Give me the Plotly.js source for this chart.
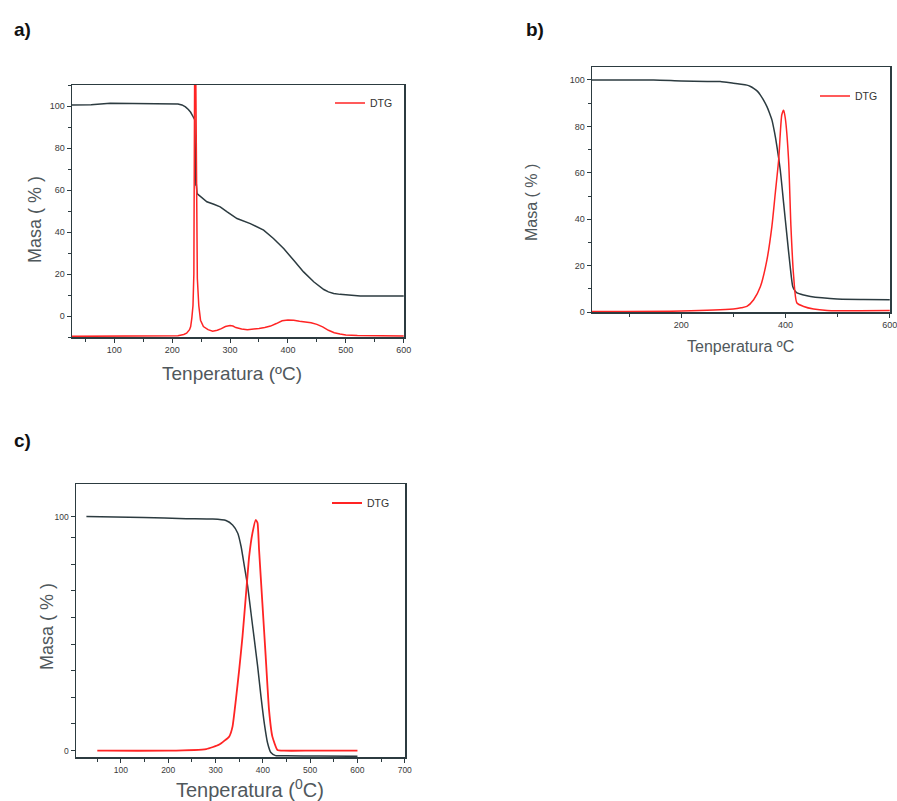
<!DOCTYPE html>
<html>
<head>
<meta charset="utf-8">
<script src="https://cdn.plot.ly/plotly-3.0.1.min.js"></script>
<style>html,body{margin:0;padding:0;background:#fff;}#chart{width:897px;height:801px;}</style>
</head>
<body>
<div id="chart"></div>
<script>
// ---------- Panel a ----------
const aTempTG = [27, 60, 93, 150, 202, 210, 217, 223, 228, 232, 236, 239, 241, 241.7, 243, 249, 260, 272, 283, 295, 312, 335, 358, 375, 393, 410, 427, 445, 462, 470, 479, 490, 500, 525, 560, 600];
const aMassTG = [100.5, 100.6, 101.3, 101.3, 101.3, 101, 100.5, 99.6, 98.3, 97, 95, 93.5, 62, 63, 58.3, 56.8, 54.4, 53.2, 52, 49.6, 46.4, 44, 40.9, 36.9, 32, 26.5, 21, 16.2, 12.6, 11.5, 10.7, 10.3, 10.1, 9.5, 9.5, 9.5];
const aTempDTG = [27, 100, 200, 210, 220, 225, 230, 232, 234, 236, 237.5, 239, 240.5, 242, 243.5, 246, 249, 254, 262, 270, 278, 285, 292, 300, 305, 310, 320, 330, 340, 350, 360, 370, 380, 390, 400, 410, 420, 430, 440, 450, 460, 470, 480, 490, 500, 520, 550, 600];
const aDTG = [-9.7, -9.7, -9.6, -9.4, -8.8, -8.2, -6.5, -5, -1, 5, 20, 125, 125, 40, 18, 5, -2, -5, -6.5, -7.2, -6.8, -6, -5, -4.5, -4.8, -5.5, -6.2, -6.5, -6.3, -6, -5.5, -4.8, -3.6, -2.3, -1.9, -2, -2.5, -2.8, -3.2, -4, -5.2, -6.8, -8, -8.6, -9, -9.3, -9.5, -9.5];

// ---------- Panel b ----------
const bTempTG = [29, 147, 200, 250, 275, 300, 315, 326, 333, 339, 346, 352, 358, 364.5, 369, 374, 379, 383.7, 390, 396.5, 403, 409, 414, 418, 422, 435, 448, 470, 499, 550, 600];
const bMassTG = [100, 100, 99.6, 99.4, 99.3, 98.6, 98.2, 97.8, 97.2, 96.4, 95.2, 93.5, 91.3, 88.5, 86, 82.8, 77.5, 71.3, 61.3, 46.9, 32.6, 19.7, 11, 9.2, 8.2, 7.3, 6.7, 6.1, 5.6, 5.4, 5.3];
const bTempDTG = [29, 200, 300, 315, 326, 339, 352, 364.5, 374, 380.5, 387, 393, 396.5, 399.7, 406, 410.5, 415.7, 422, 435, 454, 480, 600];
const bDTG = [0.2, 0.4, 1.3, 1.8, 2.4, 5.3, 11, 22.5, 36.9, 51.2, 65.6, 85, 87, 83.5, 65.6, 36.9, 15.4, 3.9, 2.4, 1.3, 0.7, 0.6];

// ---------- Panel c ----------
const cTempTG = [27, 148, 238, 294, 322, 336, 347, 354, 361, 368, 375, 382, 389, 396, 403, 410, 417, 427, 450, 520, 600];
const cMassTG = [100, 99.6, 99.1, 98.9, 98.3, 96.4, 92.9, 87.2, 78.7, 70.1, 58.7, 47.4, 36, 23.2, 11.8, 3.3, -0.8, -2.1, -2.2, -2.3, -2.4];
const cTempDTG = [50, 70.6, 200, 280.4, 308, 329, 336, 343, 350, 357, 364, 371, 378, 385, 388.8, 392, 399, 406, 413, 420, 430.8, 445, 500, 550, 600];
const cDTG = [0, 0, 0, 0.7, 2.6, 6.1, 10.4, 21.8, 34.6, 48.8, 65.9, 82.9, 92.9, 98.6, 97.2, 85.8, 63, 40.3, 17.5, 6.1, 0.3, 0, 0, 0, 0];
const cYTickVals = [0, 100];
const cYTickText = ['0', '100'];
const cYMinorVals = [11.4, 22.8, 34.1, 45.5, 56.9, 68.3, 79.7, 91.0];

const W = 897, H = 801;
const px = (l, r) => [l / W, r / W];
const py = (t, b) => [1 - b / H, 1 - t / H];

const BLACK = '#2c3b40';
const RED = '#ff2424';
const AXC = '#2c3b40';
const FONT = 'Arial, "Liberation Sans", sans-serif';
const TITLEC = '#50585c';

const data = [
  {x: aTempTG, y: aMassTG, xaxis: 'x', yaxis: 'y', mode: 'lines', line: {color: BLACK, width: 1.5}, showlegend: false},
  {x: aTempDTG, y: aDTG, xaxis: 'x', yaxis: 'y', mode: 'lines', name: 'DTG', line: {color: RED, width: 1.5}, legend: 'legend'},
  {x: bTempTG, y: bMassTG, xaxis: 'x2', yaxis: 'y2', mode: 'lines', line: {color: BLACK, width: 1.5, shape: 'spline', smoothing: 0.6}, showlegend: false},
  {x: bTempDTG, y: bDTG, xaxis: 'x2', yaxis: 'y2', mode: 'lines', name: 'DTG', line: {color: RED, width: 1.5, shape: 'spline', smoothing: 0.6}, legend: 'legend2'},
  {x: cTempTG, y: cMassTG, xaxis: 'x3', yaxis: 'y3', mode: 'lines', line: {color: BLACK, width: 1.5, shape: 'spline', smoothing: 0.5}, showlegend: false},
  {x: cTempDTG, y: cDTG, xaxis: 'x3', yaxis: 'y3', mode: 'lines', name: 'DTG', line: {color: RED, width: 1.8, shape: 'spline', smoothing: 0.4}, legend: 'legend3'}
];

function ax(opts) {
  return Object.assign({
    showline: true, linecolor: AXC, linewidth: 1.5, mirror: true,
    showgrid: false, zeroline: false,
    ticks: 'outside', ticklen: 4, tickwidth: 1, tickcolor: AXC,
    ticklabeloverflow: 'allow',
    tickfont: {family: FONT, size: 9, color: '#3a3a3a'}
  }, opts);
}

const legendBase = {
  bgcolor: 'rgba(0,0,0,0)', borderwidth: 0,
  font: {family: FONT, size: 10.5, color: '#333'},
  xanchor: 'left', yanchor: 'middle', tracegroupgap: 0
};

const layout = {
  width: W, height: H,
  margin: {l: 0, r: 0, t: 0, b: 0},
  paper_bgcolor: '#fff', plot_bgcolor: '#fff',
  font: {family: FONT},
  xaxis: ax({domain: px(72, 404), anchor: 'y', range: [27, 600.5], tick0: 0, dtick: 100, minor: {dtick: 50, ticklen: 3, tickcolor: AXC, ticks: 'outside'}}),
  yaxis: ax({domain: py(85, 337), anchor: 'x', range: [-10, 110], tick0: 0, dtick: 20, minor: {dtick: 10, ticklen: 3, tickcolor: AXC, ticks: 'outside'}}),
  xaxis2: ax({domain: px(592, 890), anchor: 'y2', range: [29, 600.5], tick0: 0, dtick: 200, minor: {dtick: 100, ticklen: 3, tickcolor: AXC, ticks: 'outside'}}),
  yaxis2: ax({domain: py(67, 312), anchor: 'x2', range: [0, 105.6], tick0: 0, dtick: 20, minor: {dtick: 10, ticklen: 3, tickcolor: AXC, ticks: 'outside'}}),
  xaxis3: ax({domain: px(76, 405), anchor: 'y3', range: [5, 700.5], tick0: 0, dtick: 100, tickfont: {family: FONT, size: 8.5, color: '#3a3a3a'}, minor: {dtick: 50, ticklen: 3, tickcolor: AXC, ticks: 'outside'}}),
  yaxis3: ax({domain: py(484, 757), anchor: 'x3', range: [-2.7, 113.9], tickmode: 'array', tickvals: cYTickVals, ticktext: cYTickText, tickfont: {family: FONT, size: 8.5, color: '#3a3a3a'}, minor: {tickmode: 'array', tickvals: cYMinorVals, ticklen: 4, tickcolor: AXC, ticks: 'outside'}}),
  legend: Object.assign({}, legendBase, {x: 330 / W, y: 1 - 103 / H}),
  legend2: Object.assign({}, legendBase, {x: 815 / W, y: 1 - 96 / H}),
  legend3: Object.assign({}, legendBase, {x: 327 / W, y: 1 - 503 / H}),
  annotations: [
    {text: '<b>a)</b>', x: 12 / W, y: 1 - 30 / H, xref: 'paper', yref: 'paper', xanchor: 'left', yanchor: 'middle', showarrow: false, font: {family: FONT, size: 19, color: '#111'}},
    {text: '<b>b)</b>', x: 524 / W, y: 1 - 30 / H, xref: 'paper', yref: 'paper', xanchor: 'left', yanchor: 'middle', showarrow: false, font: {family: FONT, size: 19, color: '#111'}},
    {text: '<b>c)</b>', x: 12 / W, y: 1 - 440 / H, xref: 'paper', yref: 'paper', xanchor: 'left', yanchor: 'middle', showarrow: false, font: {family: FONT, size: 19, color: '#111'}},
    {text: 'Tenperatura (ºC)', x: 232 / W, y: 1 - 373 / H, xref: 'paper', yref: 'paper', xanchor: 'center', yanchor: 'middle', showarrow: false, font: {family: FONT, size: 19, color: TITLEC}},
    {text: 'Masa ( % )', x: 35 / W, y: 1 - 220 / H, xref: 'paper', yref: 'paper', xanchor: 'center', yanchor: 'middle', textangle: -90, showarrow: false, font: {family: FONT, size: 18, color: TITLEC}},
    {text: 'Tenperatura ºC', x: 740 / W, y: 1 - 347 / H, xref: 'paper', yref: 'paper', xanchor: 'center', yanchor: 'middle', showarrow: false, font: {family: FONT, size: 16, color: TITLEC}},
    {text: 'Masa ( % )', x: 532 / W, y: 1 - 203 / H, xref: 'paper', yref: 'paper', xanchor: 'center', yanchor: 'middle', textangle: -90, showarrow: false, font: {family: FONT, size: 16, color: TITLEC}},
    {text: 'Tenperatura (<sup>0</sup>C)', x: 250 / W, y: 1 - 788 / H, xref: 'paper', yref: 'paper', xanchor: 'center', yanchor: 'middle', showarrow: false, font: {family: FONT, size: 20, color: TITLEC}},
    {text: 'Masa ( % )', x: 47 / W, y: 1 - 627 / H, xref: 'paper', yref: 'paper', xanchor: 'center', yanchor: 'middle', textangle: -90, showarrow: false, font: {family: FONT, size: 18, color: TITLEC}}
  ]
};

Plotly.newPlot('chart', data, layout, {displayModeBar: false, staticPlot: true});
</script>
</body>
</html>
